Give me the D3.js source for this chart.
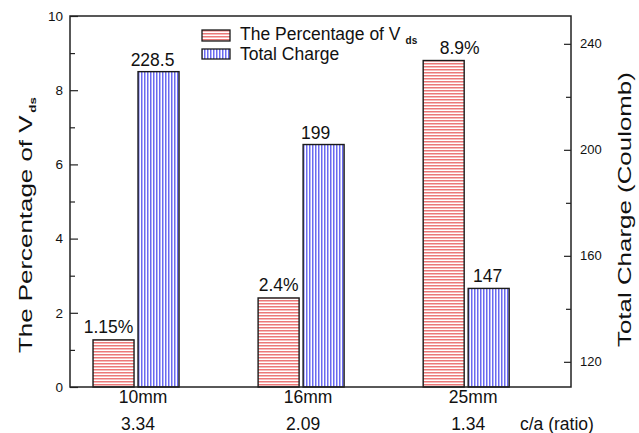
<!DOCTYPE html>
<html><head><meta charset="utf-8">
<script src="https://cdn.jsdelivr.net/npm/d3@7"></script>
<style>
body{margin:0;background:#fff}
svg{display:block}
text{font-family:"Liberation Sans",Arial,Helvetica,sans-serif;fill:#111}
</style>
</head><body>
<svg id="c" width="639" height="433"></svg>
<script>
// ---- data ----
const categories   = ["10mm", "16mm", "25mm"];
const ratios       = ["3.34", "2.09", "1.34"];
const vdsPercent   = [1.27, 2.4, 8.8];          // bar heights as drawn (left axis)
const vdsLabels    = ["1.15%", "2.4%", "8.9%"];
const totalCharge  = [229.5, 202, 147.7];       // bar heights as drawn (right axis)
const chargeLabels = ["228.5", "199", "147"];
const leftTicks    = [0, 2, 4, 6, 8, 10];
const leftMinor    = [1, 3, 5, 7, 9];
const rightTicks   = [120, 160, 200, 240];
const rightMinor   = [140, 180, 220];

// ---- layout ----
const L = 70, R = 571, T = 16, B = 387;
const barW = 41, gap = 4;
const svg = d3.select("#c");

const x  = d3.scaleLinear().domain([0.6, 3.635]).range([L, R]);
const yL = d3.scaleLinear().domain([0, 10]).range([B, T]);
const yR = d3.scaleLinear().domain([110.5, 250.5]).range([B, T]);

// patterns
const defs = svg.append("defs");
const pr = defs.append("pattern").attr("id", "pRed").attr("patternUnits", "userSpaceOnUse")
  .attr("width", 4).attr("height", 3);
pr.append("rect").attr("width", 4).attr("height", 3).attr("fill", "#fff");
pr.append("rect").attr("width", 4).attr("height", 1.5).attr("fill", "#ec7878");
const pb = defs.append("pattern").attr("id", "pBlue").attr("patternUnits", "userSpaceOnUse")
  .attr("width", 3).attr("height", 4);
pb.append("rect").attr("width", 3).attr("height", 4).attr("fill", "#fff");
pb.append("rect").attr("width", 1.5).attr("height", 4).attr("fill", "#6a6af0");

const idx = categories.map((d, i) => i);
const cx = i => x(i + 1);

// red bars
svg.append("g").selectAll("rect").data(idx).join("rect")
  .attr("x", i => cx(i) - gap / 2 - barW)
  .attr("y", i => yL(vdsPercent[i]))
  .attr("width", barW)
  .attr("height", i => B - yL(vdsPercent[i]))
  .attr("fill", "url(#pRed)").attr("stroke", "#1a1a1a").attr("stroke-width", 1.4);

// blue bars
svg.append("g").selectAll("rect").data(idx).join("rect")
  .attr("x", i => cx(i) + gap / 2)
  .attr("y", i => yR(totalCharge[i]))
  .attr("width", barW)
  .attr("height", i => B - yR(totalCharge[i]))
  .attr("fill", "url(#pBlue)").attr("stroke", "#1a1a1a").attr("stroke-width", 1.4);

// value labels
const redNudge = [-5, 0, 16];
const blueNudge = [-6, -8, -1];
svg.append("g").selectAll("text").data(idx).join("text")
  .attr("x", i => cx(i) - gap / 2 - barW / 2 + redNudge[i])
  .attr("y", i => yL(vdsPercent[i]) - 7)
  .attr("text-anchor", "middle").attr("font-size", 17.5)
  .text(i => vdsLabels[i]);
svg.append("g").selectAll("text").data(idx).join("text")
  .attr("x", i => cx(i) + gap / 2 + barW / 2 + blueNudge[i])
  .attr("y", i => yR(totalCharge[i]) - 6)
  .attr("text-anchor", "middle").attr("font-size", 17.5)
  .text(i => chargeLabels[i]);

// axes
function styleAxis(g, fs) {
  g.select(".domain").remove();
  g.selectAll("line").attr("stroke", "#222").attr("stroke-width", 1.2);
  g.selectAll("text").attr("font-size", fs).attr("fill", "#111");
}
svg.append("g").attr("transform", `translate(${L},0)`)
  .call(d3.axisLeft(yL).tickValues(leftTicks).tickSize(-8).tickPadding(7).tickFormat(d3.format("d")))
  .call(g => styleAxis(g, 13.5)).attr("font-family", null);
svg.append("g").attr("transform", `translate(${L},0)`)
  .call(d3.axisLeft(yL).tickValues(leftMinor).tickSize(-5).tickFormat(""))
  .call(g => styleAxis(g, 13));
svg.append("g").attr("transform", `translate(${R},0)`)
  .call(d3.axisRight(yR).tickValues(rightTicks).tickSize(-7).tickPadding(9).tickFormat(d3.format("d")))
  .call(g => styleAxis(g, 13)).attr("font-family", null);
svg.append("g").attr("transform", `translate(${R},0)`)
  .call(d3.axisRight(yR).tickValues(rightMinor).tickSize(-5).tickFormat(""))
  .call(g => styleAxis(g, 13));

// frame
svg.append("rect").attr("x", L).attr("y", T).attr("width", R - L).attr("height", B - T)
  .attr("fill", "none").attr("stroke", "#222").attr("stroke-width", 1.5);

// category labels
svg.append("g").selectAll("text").data(idx).join("text")
  .attr("x", i => cx(i) + 7).attr("y", 403)
  .attr("text-anchor", "middle").attr("font-size", 17.5)
  .text(i => categories[i]);
svg.append("g").selectAll("text").data(idx).join("text")
  .attr("x", i => cx(i) + 2).attr("y", 430)
  .attr("text-anchor", "middle").attr("font-size", 17.5)
  .text(i => ratios[i]);
svg.append("text").attr("x", 520).attr("y", 430).attr("font-size", 17.5).text("c/a (ratio)");

// axis titles
const lt = svg.append("text").attr("transform", "translate(32,353) rotate(-90) scale(1.4,1)")
  .attr("font-size", 18.5);
lt.append("tspan").text("The Percentage of V");
lt.append("tspan").attr("font-size", 9.5).attr("font-weight", "bold").attr("dx", 2).attr("dy", 4).text("ds");

svg.append("text").attr("transform", "translate(631,347) rotate(-90) scale(1.4,1)")
  .attr("font-size", 18.5).text("Total Charge (Coulomb)");

// legend
const lg = svg.append("g");
lg.append("rect").attr("x", 202).attr("y", 30).attr("width", 28).attr("height", 11)
  .attr("fill", "url(#pRed)").attr("stroke", "#1a1a1a").attr("stroke-width", 1.3);
lg.append("rect").attr("x", 202).attr("y", 49).attr("width", 28).attr("height", 10)
  .attr("fill", "url(#pBlue)").attr("stroke", "#1a1a1a").attr("stroke-width", 1.3);
const l1 = lg.append("text").attr("x", 240).attr("y", 40).attr("font-size", 17.5);
l1.append("tspan").text("The Percentage of V");
l1.append("tspan").attr("font-size", 10).attr("font-weight", "bold").attr("dx", 5).attr("dy", 4).text("ds");
lg.append("text").attr("x", 240).attr("y", 60).attr("font-size", 17.5).text("Total Charge");
</script>
</body></html>
